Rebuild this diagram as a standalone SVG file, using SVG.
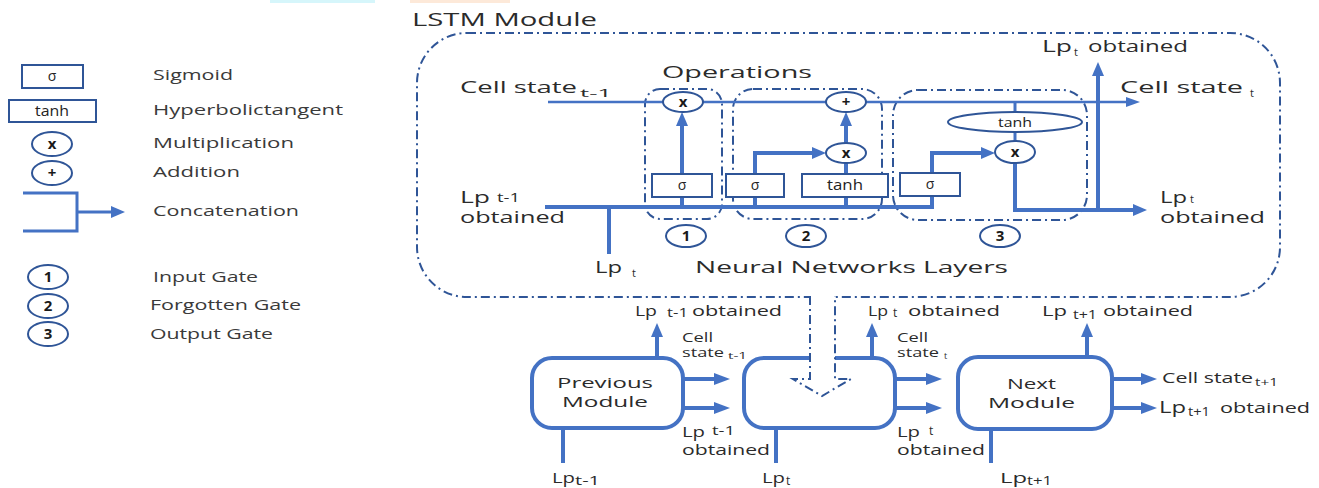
<svg xmlns="http://www.w3.org/2000/svg" width="1319" height="488" viewBox="0 0 1319 488">
<style>
.ln{fill:none;stroke:#4472c4;stroke-width:4}
.lt{fill:none;stroke:#4472c4;stroke-width:3}
.cell{fill:none;stroke:#4472c4;stroke-width:2.5}
.box{fill:#fff;stroke:#2f5597;stroke-width:2}
.dd{fill:none;stroke:#2f5597;stroke-width:2;stroke-dasharray:9 4 2 4}
.mod{fill:#fff;stroke:#4472c4;stroke-width:4}
text{font-family:"Open Sans","Liberation Sans",sans-serif;fill:#2b2b2b}
.lg{font-size:14px;fill:#3a3a3a}
.m{font-size:16px}
.s{font-size:11px}
.l{font-size:15px}
.sm{font-size:12px}
.op{font-size:15px;font-weight:bold;text-anchor:middle;fill:#1a1a1a}
.sy{font-size:14px;text-anchor:middle;fill:#222}
</style>
<defs>
<marker id="ah" viewBox="0 0 14 12" markerWidth="14" markerHeight="12" refX="3" refY="6" orient="auto" markerUnits="userSpaceOnUse"><path d="M0,0 L14,6 L0,12 Z" fill="#4472c4"/></marker>
<marker id="as" viewBox="0 0 14 10" markerWidth="14" markerHeight="10" refX="3" refY="5" orient="auto" markerUnits="userSpaceOnUse"><path d="M0,0 L14,5 L0,10 Z" fill="#4472c4"/></marker>
<marker id="al" viewBox="0 0 16 12" markerWidth="16" markerHeight="12" refX="3" refY="6" orient="auto" markerUnits="userSpaceOnUse"><path d="M0,0 L16,6 L0,12 Z" fill="#4472c4"/></marker>
</defs>
<rect width="1319" height="488" fill="#fff"/>
<rect x="270" y="0" width="105" height="3" fill="#d6f6fb"/>
<rect x="410" y="0" width="100" height="3" fill="#fde9d9"/>

<g id="legend">
<g id="leg-sigmoid"><rect class="box" x="22" y="65" width="61" height="23"/><text class="sy" x="52" y="81">σ</text><text class="lg" x="153" y="80" textLength="80" lengthAdjust="spacingAndGlyphs">Sigmoid</text></g>
<g id="leg-tanh"><rect class="box" x="9" y="100" width="87" height="22"/><text class="sy" x="52" y="116" textLength="34" lengthAdjust="spacingAndGlyphs">tanh</text><text class="lg" x="153" y="115" textLength="190" lengthAdjust="spacingAndGlyphs">Hyperbolictangent</text></g>
<g id="leg-mult"><ellipse class="box" cx="52" cy="144" rx="20" ry="12"/><text class="op" x="52" y="149">x</text><text class="lg" x="153" y="148" textLength="141" lengthAdjust="spacingAndGlyphs">Multiplication</text></g>
<g id="leg-add"><ellipse class="box" cx="52" cy="173" rx="20" ry="12"/><text class="op" x="52" y="178">+</text><text class="lg" x="153" y="177" textLength="87" lengthAdjust="spacingAndGlyphs">Addition</text></g>
<g id="leg-concat"><path class="lt" d="M23 193 H77 V231 H23 M77 212 H114" marker-end="url(#ah)"/><text class="lg" x="153" y="216" textLength="146" lengthAdjust="spacingAndGlyphs">Concatenation</text></g>
<g id="leg-1"><ellipse class="box" cx="48" cy="277" rx="20" ry="12"/><text class="op" x="48" y="282">1</text><text class="lg" x="153" y="282" textLength="105" lengthAdjust="spacingAndGlyphs">Input Gate</text></g>
<g id="leg-2"><ellipse class="box" cx="48" cy="306" rx="20" ry="12"/><text class="op" x="48" y="311">2</text><text class="lg" x="150" y="310" textLength="151" lengthAdjust="spacingAndGlyphs">Forgotten Gate</text></g>
<g id="leg-3"><ellipse class="box" cx="48" cy="334" rx="20" ry="12"/><text class="op" x="48" y="339">3</text><text class="lg" x="150" y="339" textLength="123" lengthAdjust="spacingAndGlyphs">Output Gate</text></g>
</g>

<g id="lstm-module">
<rect class="dd" x="417" y="33" width="863" height="264" rx="50"/>
<text x="412" y="26" style="font-size:18px" textLength="185" lengthAdjust="spacingAndGlyphs">LSTM Module</text>
<text x="662" y="78" style="font-size:17px" textLength="150" lengthAdjust="spacingAndGlyphs">Operations</text>
<text x="695" y="273" class="m" textLength="313" lengthAdjust="spacingAndGlyphs">Neural Networks Layers</text>
</g>

<g id="gate-frames">
<rect id="gate1-frame" class="dd" x="645" y="89" width="77" height="130" rx="15"/>
<rect id="gate2-frame" class="dd" x="733" y="89" width="149" height="130" rx="20"/>
<rect id="gate3-frame" class="dd" x="893" y="90" width="194" height="130" rx="25"/>
</g>

<g id="connectors">
<path class="cell" d="M548 102 H1129" marker-end="url(#as)"/>
<path class="ln" d="M545 207 H932 V153 H984" marker-end="url(#ah)"/>
<path class="ln" d="M609 254 V207"/>
<path class="ln" d="M682 207 V123" marker-end="url(#ah)"/>
<path class="ln" d="M755 207 V153 H815" marker-end="url(#ah)"/>
<path class="ln" d="M846 207 V163"/>
<path class="ln" d="M846 143 V123" marker-end="url(#ah)"/>
<path class="lt" d="M1015 102 V142"/>
<path class="ln" d="M1015 162 V210 H1136" marker-end="url(#ah)"/>
<path class="ln" d="M1098 210 V73" marker-end="url(#ah)"/>
<path class="ln" d="M657 358 V334" marker-end="url(#ah)"/>
<path class="ln" d="M872 358 V334" marker-end="url(#ah)"/>
<path class="ln" d="M1087 357 V334" marker-end="url(#ah)"/>
<path class="ln" d="M683 379 H717" marker-end="url(#al)"/>
<path class="ln" d="M683 408 H717" marker-end="url(#al)"/>
<path class="ln" d="M895 379 H929" marker-end="url(#al)"/>
<path class="ln" d="M895 408 H929" marker-end="url(#al)"/>
<path class="ln" d="M1112 379 H1144" marker-end="url(#al)"/>
<path class="ln" d="M1112 408 H1144" marker-end="url(#al)"/>
<path class="ln" d="M563 428 V463"/>
<path class="ln" d="M776 428 V463"/>
<path class="ln" d="M991 429 V463"/>
</g>

<g id="gate1">
<ellipse class="box" cx="683" cy="102" rx="20" ry="10"/><text class="op" x="683" y="107">x</text>
<rect class="box" x="652" y="174" width="60" height="23"/><text class="sy" x="682" y="190">σ</text>
<ellipse class="box" cx="686" cy="236" rx="20" ry="11"/><text class="op" x="686" y="241">1</text>
</g>
<g id="gate2">
<ellipse class="box" cx="846" cy="102" rx="20" ry="10"/><text class="op" x="846" y="107">+</text>
<ellipse class="box" cx="846" cy="153" rx="20" ry="10"/><text class="op" x="846" y="158">x</text>
<rect class="box" x="726" y="174" width="58" height="23"/><text class="sy" x="755" y="190">σ</text>
<rect class="box" x="802" y="174" width="86" height="23"/><text class="sy" x="845" y="190" textLength="36" lengthAdjust="spacingAndGlyphs">tanh</text>
<ellipse class="box" cx="806" cy="236" rx="20" ry="11"/><text class="op" x="806" y="241">2</text>
</g>
<g id="gate3">
<ellipse class="box" cx="1015" cy="122" rx="67" ry="10"/><text class="sy" x="1015" y="127" style="font-size:13px" textLength="34" lengthAdjust="spacingAndGlyphs">tanh</text>
<ellipse class="box" cx="1015" cy="152" rx="20" ry="11"/><text class="op" x="1015" y="157">x</text>
<rect class="box" x="900" y="173" width="60" height="23"/><text class="sy" x="930" y="189">σ</text>
<ellipse class="box" cx="1000" cy="236" rx="20" ry="11"/><text class="op" x="1000" y="241">3</text>
</g>

<g id="lstm-labels">
<text class="m" x="460" y="93" textLength="117" lengthAdjust="spacingAndGlyphs">Cell state</text><text class="s" x="580" y="97" textLength="32" lengthAdjust="spacingAndGlyphs">t-1</text>
<text class="m" x="1042" y="52" textLength="30" lengthAdjust="spacingAndGlyphs">Lp</text><text class="s" x="1074" y="56">t</text><text class="m" x="1088" y="52" textLength="100" lengthAdjust="spacingAndGlyphs">obtained</text>
<text class="m" x="1120" y="93" textLength="123" lengthAdjust="spacingAndGlyphs">Cell state</text><text class="s" x="1250" y="97">t</text>
<text class="m" x="1160" y="203" textLength="27" lengthAdjust="spacingAndGlyphs">Lp</text><text class="s" x="1190" y="203">t</text><text class="m" x="1160" y="223" textLength="105" lengthAdjust="spacingAndGlyphs">obtained</text>
<text class="m" x="460" y="203" textLength="30" lengthAdjust="spacingAndGlyphs">Lp</text><text class="sm" x="497" y="202" textLength="23" lengthAdjust="spacingAndGlyphs">t-1</text><text class="m" x="460" y="223" textLength="105" lengthAdjust="spacingAndGlyphs">obtained</text>
<text class="m" x="595" y="273" textLength="27" lengthAdjust="spacingAndGlyphs">Lp</text><text class="s" x="632" y="277">t</text>
</g>

<g id="prev-module">
<rect class="mod" x="532" y="358" width="151" height="70" rx="20"/>
<text class="l" x="557" y="388" textLength="96" lengthAdjust="spacingAndGlyphs">Previous</text>
<text class="l" x="562" y="407" textLength="86" lengthAdjust="spacingAndGlyphs">Module</text>
</g>
<g id="mid-module">
<rect class="mod" x="744" y="358" width="151" height="70" rx="20"/>
</g>
<g id="next-module">
<rect class="mod" x="958" y="357" width="154" height="72" rx="20"/>
<text class="l" x="1007" y="389" textLength="49" lengthAdjust="spacingAndGlyphs">Next</text>
<text class="l" x="988" y="408" textLength="87" lengthAdjust="spacingAndGlyphs">Module</text>
</g>
<g id="module-arrow">
<path d="M810 296 V379 H793 L822 396 L851 379 H835 V296" fill="#fff" stroke="#2f5597" stroke-width="2" stroke-dasharray="9 4 2 4"/>
</g>

<g id="lower-labels">
<text class="l" x="635" y="316" textLength="22" lengthAdjust="spacingAndGlyphs">Lp</text><text class="sm" x="667" y="317" textLength="21" lengthAdjust="spacingAndGlyphs">t-1</text><text class="l" x="692" y="316" textLength="90" lengthAdjust="spacingAndGlyphs">obtained</text>
<text class="sm" x="682" y="342" textLength="31" lengthAdjust="spacingAndGlyphs">Cell</text><text class="sm" x="682" y="357" textLength="42" lengthAdjust="spacingAndGlyphs">state</text><text x="728" y="359" style="font-size:9px" textLength="19" lengthAdjust="spacingAndGlyphs">t-1</text>
<text class="l" x="682" y="437" textLength="23" lengthAdjust="spacingAndGlyphs">Lp</text><text class="sm" x="712" y="435" textLength="23" lengthAdjust="spacingAndGlyphs">t-1</text><text class="l" x="682" y="455" textLength="88" lengthAdjust="spacingAndGlyphs">obtained</text>
<text class="l" x="552" y="483" textLength="23" lengthAdjust="spacingAndGlyphs">Lp</text><text class="sm" x="575" y="485" textLength="25" lengthAdjust="spacingAndGlyphs">t-1</text>

<text class="l" x="868" y="316" textLength="20" lengthAdjust="spacingAndGlyphs">Lp</text><text class="sm" x="893" y="317">t</text><text class="l" x="908" y="316" textLength="92" lengthAdjust="spacingAndGlyphs">obtained</text>
<text class="sm" x="897" y="342" textLength="31" lengthAdjust="spacingAndGlyphs">Cell</text><text class="sm" x="897" y="357" textLength="42" lengthAdjust="spacingAndGlyphs">state</text><text x="944" y="359" style="font-size:9px">t</text>
<text class="l" x="897" y="437" textLength="23" lengthAdjust="spacingAndGlyphs">Lp</text><text class="sm" x="929" y="435">t</text><text class="l" x="897" y="455" textLength="88" lengthAdjust="spacingAndGlyphs">obtained</text>
<text class="l" x="762" y="483" textLength="23" lengthAdjust="spacingAndGlyphs">Lp</text><text class="sm" x="786" y="485">t</text>

<text class="l" x="1042" y="316" textLength="25" lengthAdjust="spacingAndGlyphs">Lp</text><text class="sm" x="1073" y="319" textLength="24" lengthAdjust="spacingAndGlyphs">t+1</text><text class="l" x="1103" y="316" textLength="90" lengthAdjust="spacingAndGlyphs">obtained</text>
<text class="l" x="1162" y="383" textLength="91" lengthAdjust="spacingAndGlyphs">Cell state</text><text x="1255" y="386" style="font-size:10px" textLength="23" lengthAdjust="spacingAndGlyphs">t+1</text>
<text class="m" x="1159" y="413" textLength="27" lengthAdjust="spacingAndGlyphs">Lp</text><text class="sm" x="1188" y="416" textLength="22" lengthAdjust="spacingAndGlyphs">t+1</text><text class="l" x="1220" y="413" textLength="90" lengthAdjust="spacingAndGlyphs">obtained</text>
<text class="l" x="1000" y="483" textLength="27" lengthAdjust="spacingAndGlyphs">Lp</text><text class="sm" x="1027" y="485" textLength="25" lengthAdjust="spacingAndGlyphs">t+1</text>
</g>
</svg>
